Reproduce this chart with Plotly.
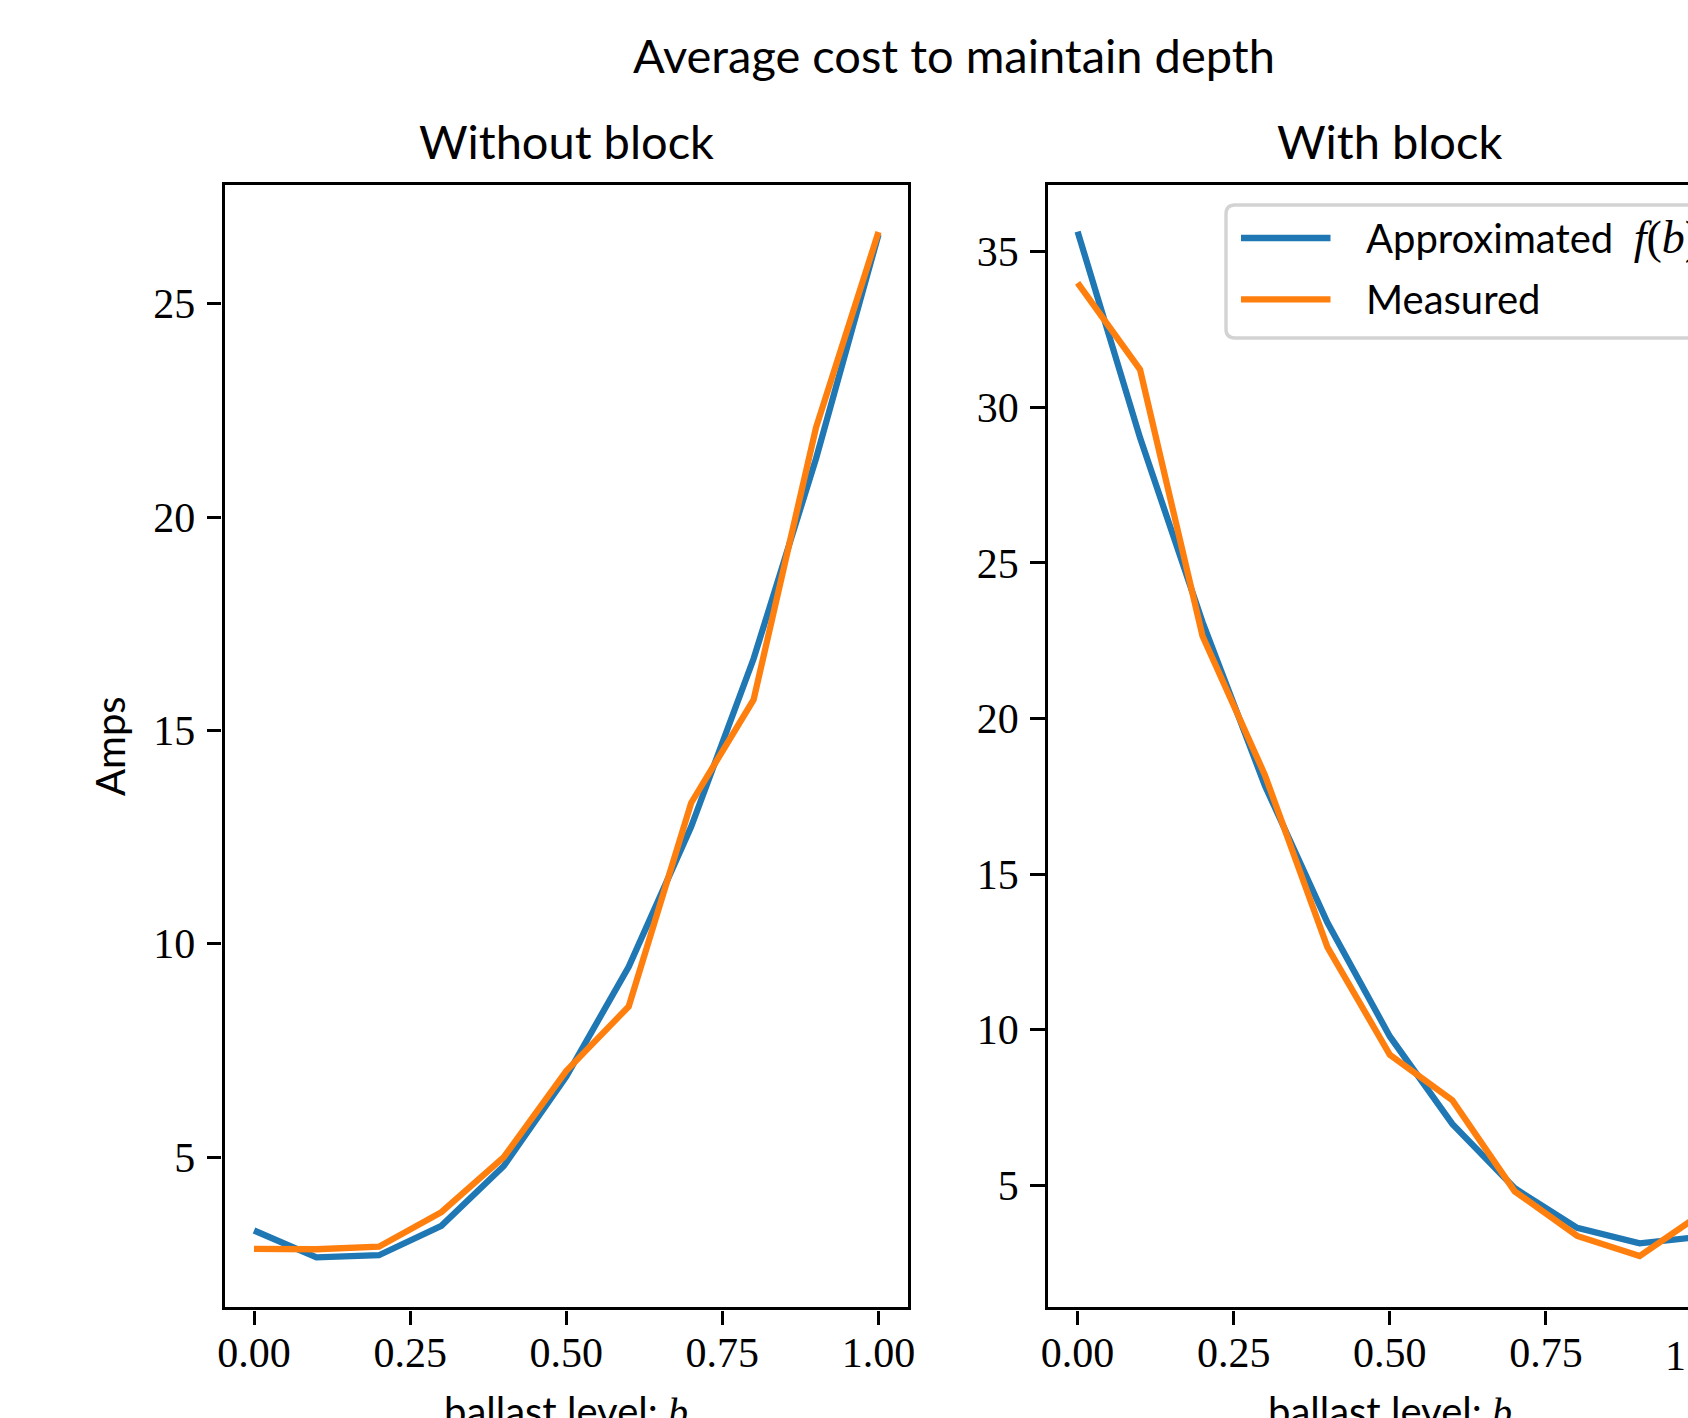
import plotly.graph_objects as go

# ---------------- data ----------------
b_levels = [0.0, 0.1, 0.2, 0.3, 0.4, 0.5, 0.6, 0.7, 0.8, 0.9, 1.0]

without_block_approx = [3.28, 2.65, 2.70, 3.39, 4.79, 6.89, 9.46, 12.74, 16.68, 21.37, 26.62]
without_block_measured = [2.85, 2.84, 2.90, 3.71, 5.00, 7.02, 8.53, 13.30, 15.72, 22.10, 26.68]

with_block_approx = [35.65, 29.02, 23.10, 17.84, 13.44, 9.78, 6.97, 4.90, 3.63, 3.13, 3.35]
with_block_measured = [34.00, 31.21, 22.65, 18.18, 12.65, 9.19, 7.73, 4.80, 3.37, 2.72, 4.10]

series_names = ["Approximated", "Measured"]
series_colors = ["#1f77b4", "#ff7f0e"]

x_tick_vals = [0.0, 0.25, 0.5, 0.75, 1.0]
x_tick_text = ["0.00", "0.25", "0.50", "0.75", "1.00"]
left_y_ticks = [5, 10, 15, 20, 25]
right_y_ticks = [5, 10, 15, 20, 25, 30, 35]

main_title = "Average cost to maintain depth"
panel_titles = ["Without block", "With block"]
y_label = "Amps"

# ---------------- geometry ----------------
W, H = 1688, 1418


def px(x):
    return x / W


def py(y):
    return 1 - y / H


AX_TOP, AX_BOT = 183.0, 1309.0
L_LEFT, L_RIGHT = 222.8, 909.7
R_LEFT = 1046.4
R_RIGHT = R_LEFT + (L_RIGHT - L_LEFT)  # right panel continues beyond the image edge
X_RANGE = [-0.05, 1.05]
LEFT_Y_RANGE = [1.44, 27.83]
RIGHT_Y_RANGE = [1.02, 37.21]

SANS = "Lato"
SERIF = "Liberation Serif"
TITLE_SIZE = 47
LABEL_SIZE = 40
TICK_SIZE = 42
LINE_W = 6.3
SPINE_W = 3.4
TICK_LEN = 14.7

# plotly draws spines just outside the plot area; inset the area by half a spine
# so the spines sit centred on the reference frame, keeping the same data scale
h = SPINE_W / 2
kx = (X_RANGE[1] - X_RANGE[0]) / (L_RIGHT - L_LEFT)
ky_l = (LEFT_Y_RANGE[1] - LEFT_Y_RANGE[0]) / (AX_BOT - AX_TOP)
ky_r = (RIGHT_Y_RANGE[1] - RIGHT_Y_RANGE[0]) / (AX_BOT - AX_TOP)

x_rng = [X_RANGE[0] + h * kx, X_RANGE[1] - h * kx]
x2_rng = [X_RANGE[0] + h * kx, X_RANGE[0] + (W - R_LEFT) * kx]
yl_rng = [LEFT_Y_RANGE[0] + h * ky_l, LEFT_Y_RANGE[1] - h * ky_l]
yr_rng = [RIGHT_Y_RANGE[0] + h * ky_r, RIGHT_Y_RANGE[1] - h * ky_r]
y_dom = [py(AX_BOT - h), py(AX_TOP + h)]

fig = go.Figure()

panels = [
    ("x", "y", without_block_approx, without_block_measured),
    ("x2", "y2", with_block_approx, with_block_measured),
]
for xa, ya, approx, measured in panels:
    for name, color, vals in zip(series_names, series_colors, [approx, measured]):
        fig.add_trace(go.Scatter(
            x=b_levels, y=vals, mode="lines", name=name,
            line=dict(color=color, width=LINE_W),
            xaxis=xa, yaxis=ya, showlegend=False,
        ))

axis_common = dict(
    showgrid=False, zeroline=False, showline=True, linecolor="black",
    linewidth=SPINE_W, ticks="outside", ticklen=TICK_LEN, tickwidth=SPINE_W,
    tickcolor="black", tickfont=dict(family=SERIF, size=TICK_SIZE, color="black"),
    automargin=False,
)
X_STANDOFF = -9
Y_STANDOFF = 3

fig.update_layout(
    width=W, height=H,
    margin=dict(l=0, r=0, t=0, b=0, pad=0, autoexpand=False),
    paper_bgcolor="white", plot_bgcolor="white",
    xaxis=dict(domain=[px(L_LEFT + h), px(L_RIGHT - h)], range=x_rng, anchor="y",
               tickvals=x_tick_vals, ticktext=x_tick_text, mirror=True,
               ticklabelstandoff=X_STANDOFF, **axis_common),
    yaxis=dict(domain=y_dom, range=yl_rng, anchor="x",
               tickvals=left_y_ticks, mirror=True, ticklabelstandoff=Y_STANDOFF, **axis_common),
    xaxis2=dict(domain=[px(R_LEFT + h), 1.0], range=x2_rng, anchor="y2",
                tickvals=x_tick_vals, ticktext=x_tick_text, mirror=True,
                ticklabelstandoff=X_STANDOFF, **axis_common),
    yaxis2=dict(domain=y_dom, range=yr_rng, anchor="x2",
                tickvals=right_y_ticks, mirror=False, ticklabelstandoff=Y_STANDOFF, **axis_common),
)

annotations = []
# figure title
annotations.append(dict(text=main_title, x=px(953.7), y=py(55), xref="paper", yref="paper",
                        xanchor="center", yanchor="middle", showarrow=False,
                        font=dict(family=SANS, size=TITLE_SIZE, color="black")))
# panel titles and x-axis titles
for title, (l, r) in zip(panel_titles, [(L_LEFT, L_RIGHT), (R_LEFT, R_RIGHT)]):
    annotations.append(dict(text=title, x=px((l + r) / 2), y=py(140.5), xref="paper", yref="paper",
                            xanchor="center", yanchor="middle", showarrow=False,
                            font=dict(family=SANS, size=TITLE_SIZE, color="black")))
    annotations.append(dict(
        text="ballast level: <span style=\"font-family:Liberation Serif\"><i>b</i></span>",
        x=px((l + r) / 2), y=py(1385), xref="paper", yref="paper",
        xanchor="center", yanchor="top", showarrow=False,
        font=dict(family=SANS, size=LABEL_SIZE, color="black")))
# y label
annotations.append(dict(text=y_label, x=px(110), y=py((AX_TOP + AX_BOT) / 2), xref="paper", yref="paper",
                        xanchor="center", yanchor="middle", textangle=-90, showarrow=False,
                        font=dict(family=SANS, size=LABEL_SIZE, color="black")))
# the "1.00" tick label of the right panel sits at the image edge (axis continues off-image)
x_one_px = R_LEFT + (x_tick_vals[-1] - X_RANGE[0]) / kx
annotations.append(dict(text=x_tick_text[-1], x=px(x_one_px), y=py(1356), xref="paper", yref="paper",
                        xanchor="center", yanchor="middle", showarrow=False,
                        font=dict(family=SERIF, size=TICK_SIZE, color="black")))

# legend (upper right of right panel, runs past the image edge)
LEG_L, LEG_T, LEG_B, LEG_R = 1226.0, 205.0, 338.0, 1712.0
rad = 9.0
path = (f"M {px(LEG_R)},{py(LEG_T)} L {px(LEG_L + rad)},{py(LEG_T)} "
        f"Q {px(LEG_L)},{py(LEG_T)} {px(LEG_L)},{py(LEG_T + rad)} "
        f"L {px(LEG_L)},{py(LEG_B - rad)} Q {px(LEG_L)},{py(LEG_B)} {px(LEG_L + rad)},{py(LEG_B)} "
        f"L {px(LEG_R)},{py(LEG_B)} Z")
shapes = [dict(type="path", path=path, xref="paper", yref="paper",
               line=dict(color="#d3d3d3", width=3.4), fillcolor="rgba(255,255,255,0.8)")]
legend_labels = [
    "Approximated  <span style=\"font-family:Liberation Serif;font-size:46px\"><i>f</i>(<i>b</i>)</span>",
    "Measured",
]
for i, (lab, color) in enumerate(zip(legend_labels, series_colors)):
    yy = 238.0 + i * 61.3
    shapes.append(dict(type="line", xref="paper", yref="paper",
                       x0=px(1241), x1=px(1330.5), y0=py(yy), y1=py(yy),
                       line=dict(color=color, width=LINE_W)))
    annotations.append(dict(text=lab, x=px(1364), y=py(yy), xref="paper", yref="paper",
                            xanchor="left", yanchor="middle", showarrow=False,
                            font=dict(family=SANS, size=LABEL_SIZE, color="black")))

fig.update_layout(annotations=annotations, shapes=shapes)

fig.write_html(
    "out.html",
    config={"displayModeBar": False},
    post_script=("document.body.style.margin='0';document.body.style.padding='0';"
                 "document.body.style.overflow='hidden';"
                 "document.documentElement.style.overflow='hidden';"),
)
